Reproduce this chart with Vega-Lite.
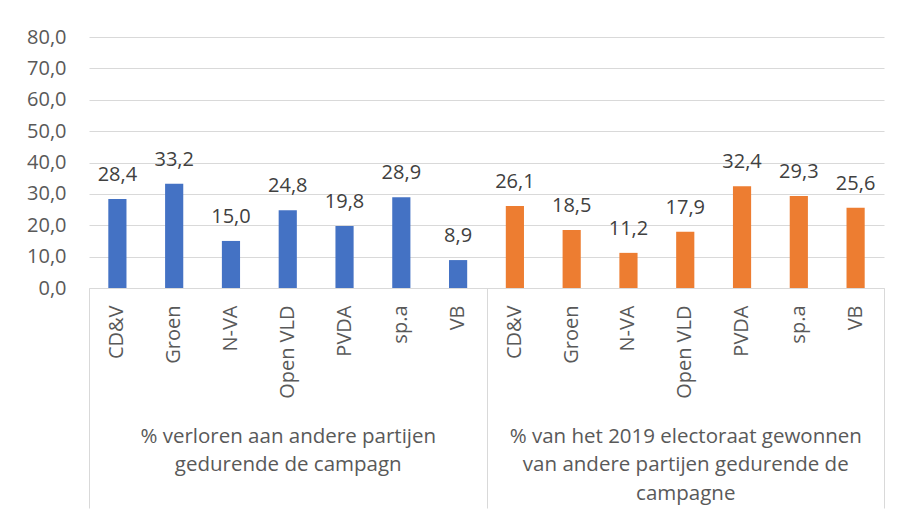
{
  "$schema": "https://vega.github.io/schema/vega-lite/v6.json",
  "autosize": "none",
  "width": 795,
  "height": 251,
  "padding": {"left": 89, "top": 37, "right": 26, "bottom": 229},
  "background": "white",
  "data": {
    "values": [
      {"groep": "verloren", "partij": "CD&V", "pct": 28.4},
      {"groep": "verloren", "partij": "Groen", "pct": 33.2},
      {"groep": "verloren", "partij": "N-VA", "pct": 15.0},
      {"groep": "verloren", "partij": "Open VLD", "pct": 24.8},
      {"groep": "verloren", "partij": "PVDA", "pct": 19.8},
      {"groep": "verloren", "partij": "sp.a", "pct": 28.9},
      {"groep": "verloren", "partij": "VB", "pct": 8.9},
      {"groep": "gewonnen", "partij": "CD&V", "pct": 26.1},
      {"groep": "gewonnen", "partij": "Groen", "pct": 18.5},
      {"groep": "gewonnen", "partij": "N-VA", "pct": 11.2},
      {"groep": "gewonnen", "partij": "Open VLD", "pct": 17.9},
      {"groep": "gewonnen", "partij": "PVDA", "pct": 32.4},
      {"groep": "gewonnen", "partij": "sp.a", "pct": 29.3},
      {"groep": "gewonnen", "partij": "VB", "pct": 25.6}
    ]
  },
  "transform": [{"calculate": "datum.groep + '|' + datum.partij", "as": "cat"}],
  "encoding": {
    "y": {
      "field": "pct",
      "type": "quantitative",
      "scale": {"domain": [0, 80], "nice": false},
      "axis": {
        "title": null,
        "values": [0, 10, 20, 30, 40, 50, 60, 70, 80],
        "format": ".1f",
        "domain": false,
        "ticks": false,
        "labelPadding": 23,
        "gridColor": "#D9D9D9",
        "gridWidth": 1,
        "labelFontSize": 20,
        "labelColor": "#595959",
        "labelFont": "Open Sans"
      }
    }
  },
  "layer": [
    {
      "mark": {"type": "bar", "width": {"band": 0.32}},
      "encoding": {
        "x": {
          "field": "cat",
          "type": "nominal",
          "sort": null,
          "scale": {"paddingInner": 0, "paddingOuter": 0},
          "axis": {
            "title": null,
            "orient": "bottom",
            "labelExpr": "split(datum.value, '|')[1]",
            "labelAngle": -90,
            "labelAlign": "right",
            "labelBaseline": "middle",
            "labelPadding": 17,
            "labelOverlap": false,
            "ticks": false,
            "domain": true,
            "domainColor": "#D9D9D9",
            "domainWidth": 1,
            "grid": false,
            "labelFontSize": 20,
            "labelColor": "#595959",
            "labelFont": "Open Sans"
          }
        },
        "color": {
          "field": "groep",
          "type": "nominal",
          "scale": {"domain": ["verloren", "gewonnen"], "range": ["#4472C4", "#ED7D31"]},
          "legend": null
        }
      }
    },
    {
      "mark": {"type": "text", "baseline": "alphabetic", "dy": -18, "fontSize": 20, "color": "#404040", "font": "Open Sans"},
      "encoding": {
        "x": {
          "field": "cat",
          "type": "nominal",
          "sort": null,
          "axis": {
            "title": null,
            "orient": "bottom",
            "tickBand": "extent",
            "ticks": true,
            "tickSize": 220,
            "tickColor": "#D9D9D9",
            "tickWidth": 1,
            "tickOpacity": {"condition": {"test": "datum.index < 0 || datum.value === 'verloren|VB' || datum.value === 'gewonnen|VB'", "value": 1}, "value": 0},
            "domain": false,
            "grid": false,
            "labelExpr": "datum.value === 'verloren|Open VLD' ? ['% verloren aan andere partijen', 'gedurende de campagn'] : (datum.value === 'gewonnen|Open VLD' ? ['% van het 2019 electoraat gewonnen', 'van andere partijen gedurende de', 'campagne'] : '')",
            "labelAngle": 0,
            "labelAlign": "center",
            "labelBaseline": "alphabetic",
            "labelPadding": -66,
            "labelLineHeight": 28.5,
            "labelOverlap": false,
            "labelLimit": 0,
            "labelFontSize": 20.5,
            "labelColor": "#595959",
            "labelFont": "Open Sans"
          }
        },
        "text": {"field": "pct", "type": "quantitative", "format": ".1f"}
      }
    }
  ],
  "resolve": {"axis": {"x": "independent"}},
  "config": {
    "view": {"stroke": null},
    "font": "Open Sans",
    "locale": {"number": {"decimal": ",", "thousands": ".", "grouping": [3], "currency": ["€", ""]}}
  }
}
